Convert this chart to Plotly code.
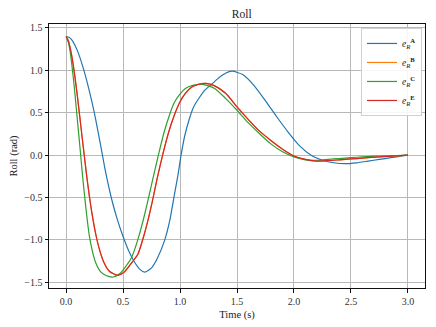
import plotly.graph_objects as go

# time / value samples
t_a = [0.0, 0.025, 0.05, 0.1, 0.15, 0.2, 0.248, 0.3, 0.344, 0.4, 0.45, 0.5, 0.55, 0.6, 0.65, 0.69,
       0.75, 0.8, 0.866, 0.91, 0.946, 0.98, 1.009, 1.04, 1.08, 1.12, 1.17, 1.22, 1.28, 1.33, 1.38, 1.42, 1.46,
       1.55, 1.65, 1.75, 1.85, 1.95, 2.05, 2.15, 2.25, 2.35, 2.45, 2.55, 2.65, 2.75, 2.85, 2.95, 3.0]
roll_a = [1.40, 1.39, 1.36, 1.23, 1.03, 0.78, 0.50, 0.14, -0.18, -0.52, -0.76, -0.96, -1.13, -1.26, -1.35, -1.38,
          -1.33, -1.22, -1.0, -0.77, -0.50, -0.25, 0.0, 0.22, 0.42, 0.57, 0.68, 0.77, 0.84, 0.90, 0.95, 0.98, 0.99,
          0.95, 0.82, 0.64, 0.45, 0.27, 0.11, 0.0, -0.06, -0.09, -0.10, -0.09, -0.07, -0.05, -0.03, -0.01, 0.0]

t_c = [0.0, 0.02, 0.04, 0.058, 0.075, 0.093, 0.11, 0.128, 0.14, 0.16, 0.18, 0.204, 0.23, 0.26, 0.3, 0.35, 0.415,
       0.47, 0.52, 0.57, 0.6, 0.64, 0.68, 0.724, 0.77, 0.81, 0.86, 0.909, 0.95, 0.994, 1.05, 1.12, 1.2,
       1.3, 1.4, 1.5, 1.6, 1.7, 1.8, 1.9, 2.0, 2.1, 2.2, 2.3, 2.4, 2.5, 2.6, 2.75, 2.9, 3.0]
roll_c = [1.40, 1.33, 1.18, 0.98, 0.76, 0.50, 0.26, 0.0, -0.18, -0.45, -0.70, -0.95, -1.13, -1.27, -1.37, -1.42, -1.437,
          -1.40, -1.32, -1.22, -1.12, -0.95, -0.75, -0.50, -0.23, 0.0, 0.27, 0.48, 0.62, 0.71, 0.79, 0.825, 0.835,
          0.79, 0.67, 0.53, 0.38, 0.25, 0.13, 0.04, -0.02, -0.055, -0.06, -0.05, -0.04, -0.03, -0.02, -0.01, -0.005, 0.0]

t_e = [0.0, 0.02, 0.04, 0.055, 0.073, 0.095, 0.117, 0.14, 0.16, 0.175, 0.19, 0.204, 0.23, 0.26, 0.29, 0.33, 0.38,
       0.452, 0.51, 0.57, 0.63, 0.676, 0.72, 0.758, 0.80, 0.847, 0.9, 0.952, 1.0, 1.037, 1.1, 1.16, 1.227,
       1.3, 1.4, 1.5, 1.6, 1.7, 1.8, 1.9, 2.0, 2.1, 2.2, 2.3, 2.4, 2.5, 2.6, 2.75, 2.9, 3.0]
roll_e = [1.40, 1.35, 1.24, 1.13, 0.97, 0.74, 0.49, 0.22, -0.01, -0.18, -0.34, -0.48, -0.71, -0.93, -1.10, -1.26, -1.37,
          -1.417, -1.38, -1.28, -1.17, -0.98, -0.76, -0.54, -0.27, 0.0, 0.27, 0.48, 0.63, 0.71, 0.80, 0.835, 0.847,
          0.82, 0.73, 0.57, 0.42, 0.28, 0.17, 0.07, -0.01, -0.05, -0.07, -0.065, -0.055, -0.045, -0.035, -0.02, -0.01, 0.0]

# B sits exactly under E in the reference
t_b = t_e
roll_b = roll_e

series = [
    ("<i>e</i><sub><i>R</i></sub><sup><b>A</b></sup>", t_a, roll_a, "#1f77b4"),
    ("<i>e</i><sub><i>R</i></sub><sup><b>B</b></sup>", t_b, roll_b, "#ff7f0e"),
    ("<i>e</i><sub><i>R</i></sub><sup><b>C</b></sup>", t_c, roll_c, "#2ca02c"),
    ("<i>e</i><sub><i>R</i></sub><sup><b>E</b></sup>", t_e, roll_e, "#d62728"),
]

serif = "Liberation Serif, DejaVu Serif, serif"

fig = go.Figure()
for name, t, v, color in series:
    fig.add_trace(go.Scatter(x=t, y=v, mode="lines", name=name,
                             line=dict(color=color, width=1.2, shape="spline", smoothing=0.6)))

axis_style = dict(showgrid=True, gridcolor="#b8b8b8", gridwidth=1, zeroline=False,
                  showline=True, linecolor="#111", linewidth=1, mirror=True, automargin=False,
                  ticks="outside", ticklen=3.5, tickcolor="#111",
                  tickfont=dict(family=serif, size=10, color="#333"))

# the page adds an 8px body margin, so the figure is 8px smaller and shifted
fig.update_layout(
    width=428, height=319,
    margin=dict(l=41, r=11, t=16, b=39),
    paper_bgcolor="white", plot_bgcolor="white",
    font=dict(family=serif, size=11, color="#222"),
    title=dict(text="Roll", x=0.546, xanchor="center", y=0.98, yanchor="middle",
               font=dict(family=serif, size=11.5)),
    xaxis=dict(range=[-0.15, 3.15], tickvals=[0, 0.5, 1, 1.5, 2, 2.5, 3], tickformat=".1f",
               title=dict(text="Time (s)", standoff=5, font=dict(family=serif, size=10.5)), **axis_style),
    yaxis=dict(range=[-1.567, 1.547], tickvals=[-1.5, -1, -0.5, 0, 0.5, 1, 1.5], tickformat=".1f",
               title=dict(text="Roll (rad)", standoff=6, font=dict(family=serif, size=10.5)), **axis_style),
    legend=dict(x=0.992, y=0.985, xanchor="right", yanchor="top", bgcolor="rgba(255,255,255,0.85)",
                bordercolor="#d0d0d0", borderwidth=1, font=dict(family=serif, size=9.5), itemwidth=30,
                tracegroupgap=0),
    showlegend=True,
)

fig.write_html("out.html")
